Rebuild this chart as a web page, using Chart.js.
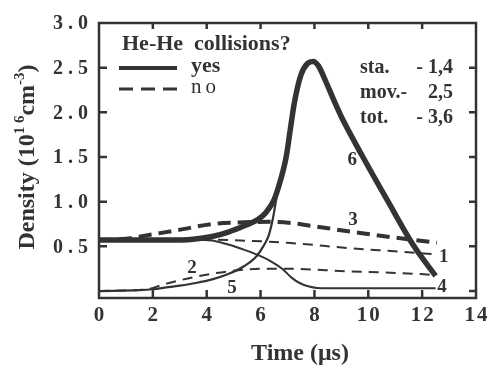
<!DOCTYPE html>
<html>
<head>
<meta charset="utf-8">
<script src="https://cdn.jsdelivr.net/npm/chart.js@4.4.1/dist/chart.umd.min.js"></script>
<style>
  html, body { margin: 0; padding: 0; background: #fff; }
  canvas { display: block; }
</style>
</head>
<body>
<canvas id="chart" width="487" height="365"></canvas>
<script>
// ===== Data: density (10^16 cm^-3) vs time (µs) =====
const xTicks = [0, 2, 4, 6, 8, 10, 12, 14];
const yTicks = [0.5, 1.0, 1.5, 2.0, 2.5, 3.0];

// curve 1 - stationary atoms, no He-He collisions
const c1x = [0, 3.5, 4.8, 7.0, 9.3, 11.2, 12.5];
const c1y = [0.57, 0.575, 0.57, 0.54, 0.48, 0.44, 0.41];
// curve 2 - moving atoms, no collisions
const c2x = [0, 1.8, 2.3, 3.0, 3.6, 4.8, 6.1, 6.85, 9.3, 11.2, 12.5];
const c2y = [0, 0.02, 0.065, 0.12, 0.16, 0.22, 0.25, 0.25, 0.22, 0.2, 0.18];
// curve 3 - total, no collisions
const c3x = [0, 1.0, 1.7, 2.9, 4.2, 5.4, 6.35, 7.2, 8.1, 9.7, 11.2, 12.55];
const c3y = [0.57, 0.585, 0.62, 0.68, 0.75, 0.77, 0.775, 0.76, 0.72, 0.65, 0.59, 0.54];
// curve 4 - stationary atoms, with collisions
const c4x = [0, 3.5, 4.2, 4.8, 5.4, 6.0, 6.4, 6.8, 7.15, 7.45, 7.8, 8.1, 9.0, 12.5];
const c4y = [0.57, 0.575, 0.565, 0.52, 0.46, 0.39, 0.33, 0.25, 0.15, 0.09, 0.05, 0.035, 0.03, 0.03];
// curve 5 - moving atoms, with collisions (runs into curve 6)
const c5x = [0, 1.5, 2.0, 2.5, 3.0, 3.6, 4.2, 4.8, 5.4, 5.85, 6.1, 6.3, 6.45, 6.6];
const c5y = [0, 0.01, 0.02, 0.04, 0.06, 0.09, 0.13, 0.19, 0.28, 0.39, 0.5, 0.62, 0.8, 1.06];
// curve 6 - total, with collisions
const c6x = [0, 2.5, 3.5, 4.2, 4.8, 5.4, 5.9, 6.2, 6.5, 6.75, 6.95, 7.1, 7.25, 7.5, 7.75, 7.95, 8.15, 8.4, 8.7, 9.0, 9.8, 10.7, 11.7, 12.5];
const c6y = [0.57, 0.57, 0.58, 0.61, 0.66, 0.73, 0.8, 0.88, 1.02, 1.25, 1.5, 1.8, 2.1, 2.42, 2.55, 2.57, 2.52, 2.36, 2.15, 1.95, 1.5, 1.02, 0.5, 0.17];

// curve numbers drawn next to the lines
const curveNames = ['1', '2', '3', '4', '5', '6'];
const curveNameX = [12.8, 3.45, 9.43, 12.74, 4.94, 9.4];
const curveNameY = [0.38, 0.26, 0.79, 0.04, 0.03, 1.47];

// notes in the upper right
const noteLabels = ['sta.', 'mov.-', 'tot.'];
const noteValues = ['- 1,4', '2,5', '- 3,6'];

const INK = '#333';
const SERIF = '"Liberation Serif", "Times New Roman", serif';

function pts(xs, ys) {
  return xs.map((x, i) => ({ x: x, y: ys[i] }));
}

function line(xs, ys, width, dash) {
  return {
    data: pts(xs, ys),
    borderColor: INK,
    borderWidth: width,
    borderDash: dash || [],
    pointRadius: 0,
    fill: false,
    cubicInterpolationMode: 'monotone'
  };
}

// ===== Frame, ticks and all text =====
const decorations = {
  id: 'decorations',
  afterDraw(chart) {
    const ctx = chart.ctx;
    const xs = chart.scales.x, ys = chart.scales.y;
    const a = chart.chartArea;
    ctx.save();
    ctx.strokeStyle = INK;
    ctx.fillStyle = INK;

    // box
    ctx.lineWidth = 2.5;
    ctx.strokeRect(a.left, a.top, a.right - a.left, a.bottom - a.top);

    // inward ticks
    ctx.beginPath();
    xTicks.slice(1, -1).forEach(v => {
      const px = xs.getPixelForValue(v);
      ctx.moveTo(px, a.bottom); ctx.lineTo(px, a.bottom - 8);
      ctx.moveTo(px, a.top); ctx.lineTo(px, a.top + 6);
    });
    yTicks.slice(0, -1).forEach(v => {
      const py = ys.getPixelForValue(v);
      ctx.moveTo(a.left, py); ctx.lineTo(a.left + 8, py);
    });
    [0].concat(yTicks.slice(0, -1)).forEach(v => {
      const py = ys.getPixelForValue(v);
      ctx.moveTo(a.right, py); ctx.lineTo(a.right - 7, py);
    });
    ctx.stroke();

    // tick labels
    ctx.font = 'bold 20px ' + SERIF;
    ctx.letterSpacing = '5px';
    ctx.textAlign = 'right';
    ctx.textBaseline = 'middle';
    yTicks.forEach(v => {
      ctx.fillText(v.toFixed(1), 93, ys.getPixelForValue(v) + 1);
    });
    ctx.font = 'bold 21px ' + SERIF;
    ctx.letterSpacing = '2px';
    ctx.textAlign = 'center';
    ctx.textBaseline = 'top';
    xTicks.forEach(v => {
      ctx.fillText(String(v), xs.getPixelForValue(v) + 1, a.bottom + 7);
    });
    ctx.letterSpacing = '0px';

    // x title
    ctx.font = 'bold 24px ' + SERIF;
    ctx.textBaseline = 'alphabetic';
    ctx.fillText('Time (\u03bcs)', 300, 360);

    // y title with superscripts, rotated
    ctx.save();
    ctx.translate(34, 157);
    ctx.rotate(-Math.PI / 2);
    const parts = [
      ['Density (10', 24, 0],
      ['1 6', 15, -10],
      ['cm', 24, 0],
      ['-3', 15, -10],
      [')', 24, 0]
    ];
    let total = 0;
    parts.forEach(p => {
      ctx.font = 'bold ' + p[1] + 'px ' + SERIF;
      total += ctx.measureText(p[0]).width;
    });
    let cx = -total / 2;
    ctx.textAlign = 'left';
    parts.forEach(p => {
      ctx.font = 'bold ' + p[1] + 'px ' + SERIF;
      ctx.fillText(p[0], cx, p[2]);
      cx += ctx.measureText(p[0]).width;
    });
    ctx.restore();

    // legend
    ctx.textAlign = 'left';
    ctx.font = 'bold 22px ' + SERIF;
    ctx.fillText('He-He  collisions?', 122, 50);
    ctx.fillText('yes', 191, 72);
    ctx.font = '21px ' + SERIF;
    ctx.letterSpacing = '4px';
    ctx.fillText('no', 191, 93);
    ctx.letterSpacing = '0px';
    ctx.lineWidth = 4;
    ctx.beginPath();
    ctx.moveTo(119, 68); ctx.lineTo(177, 68);
    ctx.stroke();
    ctx.lineWidth = 3;
    ctx.setLineDash([14, 8]);
    ctx.beginPath();
    ctx.moveTo(119, 89); ctx.lineTo(177, 89);
    ctx.stroke();
    ctx.setLineDash([]);

    // notes
    ctx.font = 'bold 20px ' + SERIF;
    noteLabels.forEach((t, i) => {
      const y = 73 + i * 25;
      ctx.textAlign = 'left';
      ctx.fillText(t, 360, y);
      ctx.textAlign = 'right';
      ctx.fillText(noteValues[i], 453, y);
    });

    // curve numbers
    ctx.font = 'bold 19px ' + SERIF;
    ctx.textAlign = 'center';
    ctx.textBaseline = 'middle';
    curveNames.forEach((t, i) => {
      ctx.fillText(t, xs.getPixelForValue(curveNameX[i]), ys.getPixelForValue(curveNameY[i]));
    });

    ctx.restore();
  }
};

new Chart(document.getElementById('chart'), {
  type: 'line',
  data: {
    datasets: [
      line(c1x, c1y, 2, [10, 7]),
      line(c2x, c2y, 2, [10, 7]),
      line(c3x, c3y, 4, [13, 7]),
      line(c4x, c4y, 2),
      line(c5x, c5y, 2.2),
      line(c6x, c6y, 5.5)
    ]
  },
  options: {
    responsive: false,
    animation: false,
    devicePixelRatio: 1,
    layout: { padding: { left: 99, right: 11, top: 23, bottom: 67 } },
    plugins: { legend: { display: false }, tooltip: { enabled: false } },
    scales: {
      x: { type: 'linear', min: 0, max: 14, display: false },
      y: { type: 'linear', min: -0.078, max: 3.0, display: false }
    }
  },
  plugins: [decorations]
});
</script>
</body>
</html>
